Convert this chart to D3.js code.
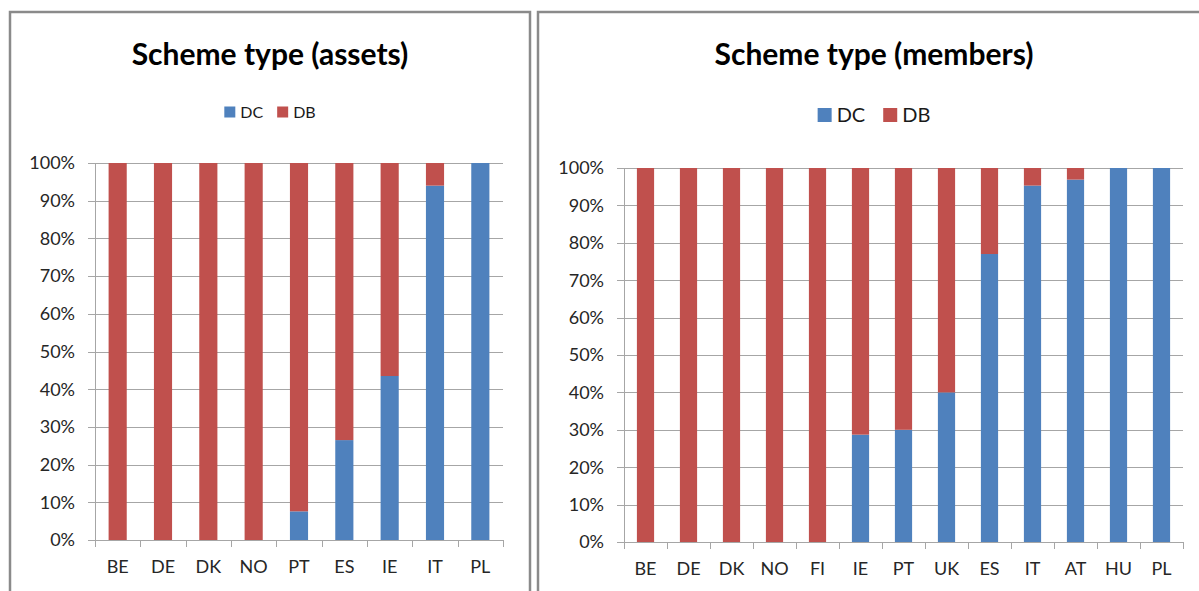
<!DOCTYPE html>
<html>
<head>
<meta charset="utf-8">
<script src="https://cdn.jsdelivr.net/npm/d3@7"></script>
<style>
  body { margin: 0; background: #fff; }
  svg { display: block; font-family: Lato, "Open Sans", sans-serif; }
  .grid line { stroke: #a6a6a6; stroke-width: 1; }
  .tick-label { fill: #262626; }
</style>
</head>
<body>
<svg id="chart" width="1199" height="591"></svg>
<script>
// series labels
const seriesNames = ['DC', 'DB'];
const seriesColors = ['#4f81bd', '#c0504d'];

// left chart: share of assets in DC schemes
const assetCountries = ['BE', 'DE', 'DK', 'NO', 'PT', 'ES', 'IE', 'IT', 'PL'];
const assetDC = [0, 0, 0, 0, 0.076, 0.265, 0.435, 0.94, 1];

// right chart: share of members in DC schemes
const memberCountries = ['BE', 'DE', 'DK', 'NO', 'FI', 'IE', 'PT', 'UK', 'ES', 'IT', 'AT', 'HU', 'PL'];
const memberDC = [0, 0, 0, 0, 0, 0.287, 0.30, 0.40, 0.77, 0.953, 0.969, 1, 1];

const yTicks = [0, 0.1, 0.2, 0.3, 0.4, 0.5, 0.6, 0.7, 0.8, 0.9, 1];

const svg = d3.select('#chart');

function StackedPanel({
  frame,
  title,
  titleSize,
  titleY,
  legendY,
  legendSize,
  legendBox,
  legendGap,
  plot,
  categories,
  dcShare,
}) {
  const g = svg.append('g');

  // panel frame (bottom / right edges fall outside the picture)
  g.append('rect')
    .attr('x', frame.x)
    .attr('y', frame.y)
    .attr('width', frame.w)
    .attr('height', frame.h)
    .attr('fill', 'none')
    .attr('stroke', '#8a8a8a')
    .attr('stroke-width', 2.5);

  const cx = frame.x + frame.cx;

  g.append('text')
    .attr('x', cx)
    .attr('y', titleY)
    .attr('text-anchor', 'middle')
    .attr('font-weight', 'bold')
    .attr('font-size', titleSize)
    .attr('fill', '#000')
    .text(title);

  // legend, laid out after measuring text
  const legend = g.append('g');
  let lx = 0;
  seriesNames.forEach((name, i) => {
    const item = legend.append('g').attr('transform', `translate(${lx},0)`);
    item.append('rect')
      .attr('x', 0)
      .attr('y', -legendBox / 2)
      .attr('width', legendBox)
      .attr('height', legendBox)
      .attr('fill', seriesColors[i]);
    const t = item.append('text')
      .attr('x', legendBox + 5)
      .attr('dy', '0.35em')
      .attr('font-size', legendSize)
      .attr('fill', '#1a1a1a')
      .text(name);
    lx += legendBox + 5 + t.node().getComputedTextLength() + legendGap;
  });
  const legendW = lx - legendGap;
  legend.attr('transform', `translate(${cx - legendW / 2},${legendY})`);

  const x = d3
    .scaleBand()
    .domain(categories)
    .range([plot.x0, plot.x1])
    .paddingInner(0.6)
    .paddingOuter(0.3);

  const y = d3.scaleLinear().domain([0, 1]).range([plot.y0, plot.y1]);

  // gridlines + y ticks
  const grid = g.append('g').attr('class', 'grid');
  grid.selectAll('line')
    .data(yTicks)
    .join('line')
    .attr('x1', plot.x0 - 7)
    .attr('x2', plot.x1)
    .attr('y1', (d) => Math.round(y(d)) + 0.5)
    .attr('y2', (d) => Math.round(y(d)) + 0.5);

  g.append('g')
    .selectAll('text')
    .data(yTicks)
    .join('text')
    .attr('class', 'tick-label')
    .attr('x', plot.x0 - 20)
    .attr('y', (d) => y(d))
    .attr('dy', '0.35em')
    .attr('text-anchor', 'end')
    .attr('font-size', 18)
    .text(d3.format('.0%'));

  // stacked bars
  const rows = categories.map((c, i) => ({ c, dc: dcShare[i], db: 1 - dcShare[i] }));
  const stack = d3.stack().keys(['dc', 'db'])(rows);

  g.append('g')
    .selectAll('g')
    .data(stack)
    .join('g')
    .attr('fill', (d, i) => seriesColors[i])
    .selectAll('rect')
    .data((d) => d)
    .join('rect')
    .attr('x', (d) => x(d.data.c))
    .attr('width', x.bandwidth())
    .attr('y', (d) => y(d[1]))
    .attr('height', (d) => Math.max(0, y(d[0]) - y(d[1])));

  // x axis line + category boundary ticks
  const axis = g.append('g').attr('class', 'grid');
  axis.append('line')
    .attr('x1', Math.round(plot.x0) + 0.5)
    .attr('x2', Math.round(plot.x0) + 0.5)
    .attr('y1', plot.y1)
    .attr('y2', plot.y0);
  axis.append('line')
    .attr('x1', plot.x0)
    .attr('x2', plot.x1)
    .attr('y1', Math.round(plot.y0) + 0.5)
    .attr('y2', Math.round(plot.y0) + 0.5);
  const bounds = d3.range(categories.length + 1).map((i) => plot.x0 + i * x.step());
  axis.selectAll('.xt')
    .data(bounds)
    .join('line')
    .attr('class', 'xt')
    .attr('x1', (d) => Math.round(d) + 0.5)
    .attr('x2', (d) => Math.round(d) + 0.5)
    .attr('y1', plot.y0)
    .attr('y2', plot.y0 + 7);

  g.append('g')
    .selectAll('text')
    .data(categories)
    .join('text')
    .attr('class', 'tick-label')
    .attr('x', (d) => x(d) + x.bandwidth() / 2)
    .attr('y', plot.y0 + 33)
    .attr('text-anchor', 'middle')
    .attr('font-size', 18)
    .text((d) => d);
}

StackedPanel({
  frame: { x: 10, y: 12, w: 520, h: 600, cx: 260 },
  title: 'Scheme type (assets)',
  titleSize: 30,
  titleY: 65,
  legendY: 112,
  legendSize: 16,
  legendBox: 11,
  legendGap: 14,
  plot: { x0: 95, x1: 503, y0: 540, y1: 163 },
  categories: assetCountries,
  dcShare: assetDC,
});

StackedPanel({
  frame: { x: 538, y: 12, w: 680, h: 600, cx: 336 },
  title: 'Scheme type (members)',
  titleSize: 30,
  titleY: 65,
  legendY: 115,
  legendSize: 20,
  legendBox: 14,
  legendGap: 18,
  plot: { x0: 624, x1: 1183, y0: 542, y1: 168 },
  categories: memberCountries,
  dcShare: memberDC,
});
</script>
</body>
</html>
